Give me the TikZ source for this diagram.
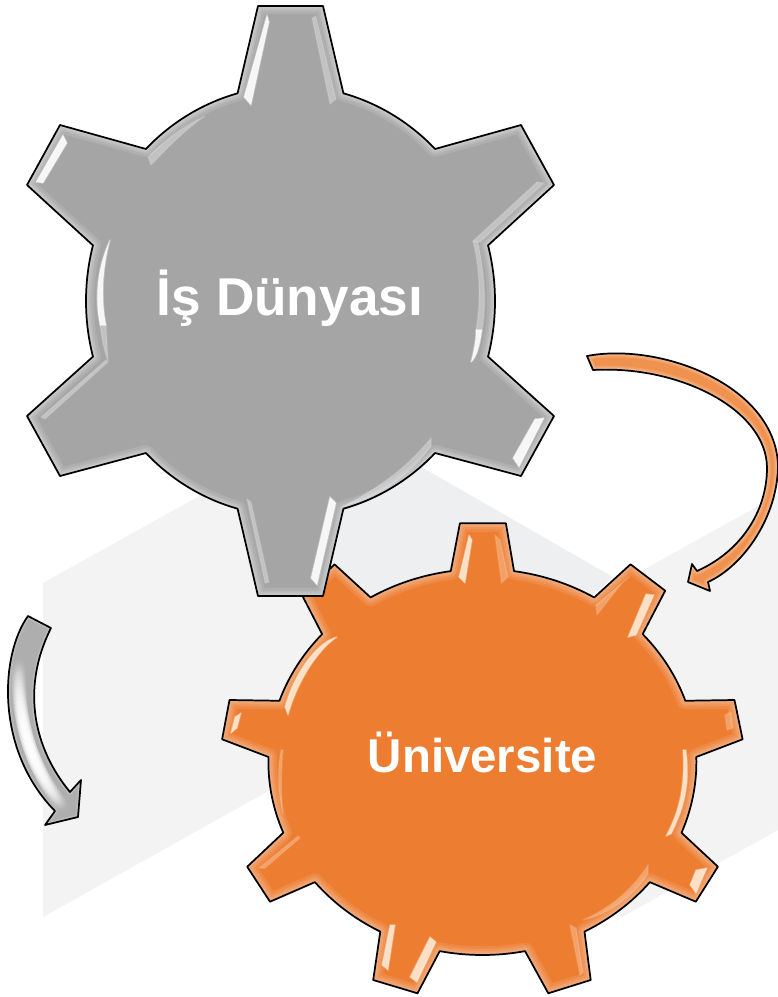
\documentclass[tikz,border=0pt]{standalone}
\usepackage{fontspec}
\setmainfont{Liberation Sans}
\usetikzlibrary{calc}
\definecolor{gearg}{HTML}{A5A5A5}
\definecolor{gearo}{HTML}{ED7D31}
\definecolor{arrowo}{HTML}{F0924F}
\definecolor{bandA}{HTML}{EEEFF1}
\definecolor{bandB}{HTML}{F3F3F4}
\definecolor{bandC}{HTML}{F3F3F4}
\definecolor{cream}{HTML}{FFF1DF}
\tikzset{
  gr/.style={x radius=204.5,y radius=215},
  or/.style={x radius=214,y radius=193},
  outline/.style={draw=black,line width=1.3pt,line join=round},
  hl/.style={fill=white,fill opacity=.9,draw=white,draw opacity=.3,line width=1.2pt,line join=round},
  hlf/.style={fill=white,fill opacity=.33,draw=white,draw opacity=.12,line width=1.2pt,line join=round},
  hlo/.style={fill=cream,fill opacity=.85,draw=cream,draw opacity=.3,line width=1.2pt,line join=round},
  hlof/.style={fill=cream,fill opacity=.3,draw=cream,draw opacity=.12,line width=1.2pt,line join=round},
  lbl/.style={text=white,font=\bfseries,inner sep=0pt,anchor=center},
}
\def\gearG{(g255) -- (258,6) -- (323,6) -- (g285) arc[gr,start angle=285,end angle=315]
  -- (521,125) -- (554,185) -- (g345) arc[gr,start angle=345,end angle=375]
  -- (554,416) -- (521,476) -- (g45) arc[gr,start angle=45,end angle=75]
  -- (323,596) -- (258,596) -- (g105) arc[gr,start angle=105,end angle=135]
  -- (60,476) -- (27,416) -- (g165) arc[gr,start angle=165,end angle=195]
  -- (27,185) -- (60,125) -- (g225) arc[gr,start angle=225,end angle=255] -- cycle}
\def\gearO{(o261) -- (459.9,523.3) -- (505.9,523.3) -- (o278) arc[or,start angle=278.5,end angle=301.5]
  -- (630.5,564.3) -- (665.2,590.7) -- (o318) arc[or,start angle=318.5,end angle=341.5]
  -- (734.5,700) -- (742.6,739.3) -- (o358) arc[or,start angle=358.5,end angle=381.5]
  -- (717.9,866.7) -- (695.8,901.7) -- (o38) arc[or,start angle=38.5,end angle=61.5]
  -- (590.7,980) -- (548.3,993.3) -- (o78) arc[or,start angle=78.5,end angle=101.5]
  -- (417.5,993.3) -- (373.2,980) -- (o118) arc[or,start angle=118.5,end angle=141.5]
  -- (270,901.7) -- (247.2,866.7) -- (o158) arc[or,start angle=158.5,end angle=181.5]
  -- (222.1,739.3) -- (229.5,700) -- (o198) arc[or,start angle=198.5,end angle=221.5]
  -- (302.5,596) -- (334.5,564.3) -- (o238) arc[or,start angle=238.5,end angle=261.5] -- cycle}
\def\arrowO{(587,356) .. controls (660,342) and (775,385) .. (778,465)
  .. controls (778,515) and (745,565) .. (708,582) -- (710,591) -- (688,582) -- (692,564) -- (697,571)
  .. controls (740,552) and (767,512) .. (767,468) .. controls (767,410) and (680,365) .. (593,370) -- cycle}
\def\arrowG{(28,616) .. controls (0,655) and (-5,750) .. (55,811) -- (45,825) -- (78,817) -- (81,780) -- (70,792)
  .. controls (35,750) and (20,690) .. (51,628) -- cycle}
\begin{document}
\begin{tikzpicture}[x=.75pt,y=-.75pt]
\useasboundingbox (0,0) rectangle (778,997);
\fill[white] (0,0) rectangle (778,997);
\coordinate (gc) at (290.5,301);
\coordinate (oc) at (482.4,762);
\foreach \a in {255,285,315,345,15,45,75,105,135,165,195,225}
  \coordinate (g\a) at ($(gc)+(\a:204.5 and 215)$);
\foreach \n/\a in {261/261.5,278/278.5,318/318.5,358/358.5,38/38.5,78/78.5,118/118.5,158/158.5,198/198.5,238/238.5}
  \coordinate (o\n) at ($(oc)+(\a:214 and 193)$);
% background facets
\fill[bandB] (43,583) -- (300,440) -- (420,700) -- (270,790) -- (43,917) -- cycle;
\fill[bandA] (423,468) -- (613,577) -- (480,700) -- (300,560) -- (300,400) -- cycle;
\fill[bandC] (643,570) -- (778,495) -- (778,830) -- (622,917) -- (520,800) -- cycle;
% orange gear
\fill[gearo] \gearO;
\begin{scope}
\clip \gearO;
\foreach \w in {13,9,6,3.5} \draw[white,opacity=.10,line width=\w pt,line join=round] \gearO;
\fill[hlo] (469,535) -- (472,540) -- (465,583) -- (459,577) -- cycle;
\fill[hlof] (495,535) -- (500,540) -- (508,577) -- (501.5,583) -- cycle;
\fill[hlof] (629,577) -- (622,583) -- (597,615) -- (596,605) -- cycle;
\fill[hlo] (646,594) -- (654,595) -- (636,635) -- (628,637) -- cycle;
\fill[hlof] (725,715) -- (731,712) -- (733,728) -- (727,730) -- cycle;
\fill[hlo] (683,750) .. controls (685,785) and (680,810) .. (666,836) -- (671,834) .. controls (686,805) and (690,780) .. (686,750) -- cycle;
\fill[hlo] (696,870) -- (707,868) -- (696,893) -- (690,885) -- cycle;
\fill[hlof] (648,865) .. controls (632,890) and (610,908) .. (583,920) .. controls (612,914) and (636,892) .. (648,874) -- cycle;
\fill[hlof] (570,925) -- (576,928) -- (583,972) -- (580,975) -- cycle;
\fill[hlo] (430,937) -- (436,942) -- (417,982) -- (410,977) -- cycle;
\fill[hlo] (390,925) -- (395,925) -- (388,970) -- (382,965) -- cycle;
\fill[hlof] (298,836) -- (259,868) -- (265,868) -- (300,838) -- cycle;
\fill[hlof] (281,750) .. controls (277,770) and (278,795) .. (283,813) .. controls (281,795) and (281,770) .. (283,750) -- cycle;
\fill[hlo] (235,717) -- (241,713) -- (237,728) -- (231,733) -- cycle;
\fill[hlo] (337,637) .. controls (320,640) and (295,670) .. (285,707) -- (288,715) .. controls (298,680) and (318,650) .. (337,637) -- cycle;
\end{scope}
\draw[outline] \gearO;
% curved arrows
\fill[arrowo] \arrowO;
\begin{scope}
\clip \arrowO;
\foreach \w in {6,4,2.5} \draw[white,opacity=.12,line width=\w pt,line join=round] \arrowO;
\end{scope}
\draw[outline] \arrowO;
\fill[gearg!90!white] \arrowG;
\begin{scope}
\clip \arrowG;
\foreach \t in {0,.02,...,1} {
  \path (19,660) .. controls (16,725) and (33,770) .. (64,808) coordinate[pos=\t] (glowpt);
  \pgfmathsetmacro{\op}{.35*sin(180*\t)}
  \fill[white,opacity=\op] (glowpt) circle (7);
  \fill[white,opacity=\op] (glowpt) circle (5);
  \fill[white,opacity=\op] (glowpt) circle (3);
}
\foreach \w in {4,2.5} \draw[white,opacity=.12,line width=\w pt,line join=round] \arrowG;
\end{scope}
\draw[outline] \arrowG;
% grey gear
\fill[gearg] \gearG;
\begin{scope}
\clip \gearG;
\foreach \w in {12,8,5.5,3.5} \draw[white,opacity=.12,line width=\w pt,line join=round] \gearG;
\fill[hl] (267,15) -- (269,22) -- (251,105) -- (244,97) -- cycle;
\fill[hlf] (312,18) -- (316,16) -- (336,99) -- (330,104) -- cycle;
\fill[hl] (63,135) -- (67,143) -- (43,183) -- (36,182) -- cycle;
\fill[hlf] (148,157) .. controls (165,140) and (185,125) .. (205,116) .. controls (185,130) and (170,145) .. (151,165) -- cycle;
\fill[hl] (110,240) .. controls (96,270) and (95,300) .. (100,325) -- (106,325) .. controls (101,300) and (102,270) .. (110,240) -- cycle;
\fill[hlf] (100,325) .. controls (102,340) and (104,350) .. (108,361) -- (106,325) -- cycle;
\fill[hlf] (106,360) -- (108,362) -- (45,419) -- (41,417) -- cycle;
\fill[hlf] (473,241) -- (478,242) .. controls (486,280) and (486,310) .. (482,330) -- (476,330) .. controls (481,300) and (480,270) .. (473,241) -- cycle;
\fill[hl] (482,330) .. controls (480,345) and (477,355) .. (473,360) -- (471,362) .. controls (474,350) and (476,340) .. (476,330) -- cycle;
\fill[hlf] (473,241) -- (537,182) -- (544,183) -- (480,242) -- cycle;
\fill[hl] (535,419) -- (544,418) -- (519,467) -- (513,458) -- cycle;
\fill[hlf] (431,438) .. controls (405,470) and (375,490) .. (342,507) .. controls (380,497) and (410,475) .. (431,446) -- cycle;
\fill[hlf] (247,499) -- (251,502) -- (269,582) -- (265,583) -- cycle;
\fill[hl] (330,497) -- (336,503) -- (317,585) -- (311,578) -- cycle;
\end{scope}
\draw[outline] \gearG;
% labels
\node[lbl,font=\fontsize{39.9}{44}\bfseries\selectfont] (isdunyasi) at (290,298) {İş Dünyası};
\node[lbl,font=\fontsize{35.6}{40}\bfseries\selectfont] (universite) at (482.5,752) {Üniversite};
\end{tikzpicture}
\end{document}
